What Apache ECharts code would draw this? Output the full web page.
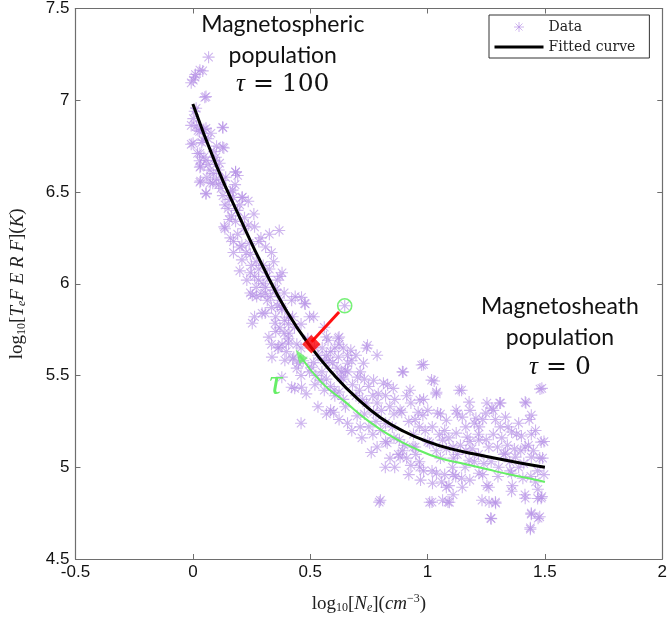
<!DOCTYPE html>
<html>
<head>
<meta charset="utf-8">
<script src="https://cdn.jsdelivr.net/npm/echarts@6/dist/echarts.min.js"></script>
<style>
html,body{margin:0;padding:0;background:#fff;}
#chart{width:670px;height:619px;}
</style>
</head>
<body>
<div id="chart"></div>
<script>
// Axis settings
const xTicks = [-0.5, 0, 0.5, 1, 1.5, 2];
const yTicks = [4.5, 5, 5.5, 6, 6.5, 7, 7.5];

// Scatter data [log10 Ne, log10 T]
const dataPoints = [
[0.067,7.235],[0.042,7.16],[0.002,7.11],[0.011,7.14],[0.056,7.02],[-0.007,7.095],
[-0.007,6.76],[0.008,6.94],[0.002,6.90],[0.015,6.86],[0.029,6.83],[0.047,6.84],[0.065,6.79],[0.038,6.77],[0.02,6.71],[0.029,6.67],[0.047,6.69],[0.033,6.64],[0.065,6.65],[0.092,6.67],[0.101,6.75],[0.128,6.85],[0.132,6.74],[0.033,6.56],[0.056,6.49],[0.074,6.55],[0.087,6.60],[0.110,6.54],[0.101,6.57],
[0.128,6.48],[0.137,6.43],[0.155,6.46],[0.173,6.47],[0.182,6.61],[0.191,6.59],[0.155,6.35],[0.134,6.31],[0.137,6.30],[0.164,6.37],[0.182,6.34],[0.200,6.43],[0.209,6.47],[0.236,6.45],[0.173,6.23],[0.191,6.27],[0.209,6.21],[0.218,6.30],[0.236,6.32],[0.263,6.31],[0.173,6.17],[0.209,6.13],[0.227,6.17],
[0.245,6.16],[0.281,6.23],[0.290,6.25],[0.326,6.27],[0.368,6.29],[0.245,6.06],[0.263,6.04],[0.281,6.08],[0.299,6.0],[0.245,5.95],[0.272,5.93],[0.290,5.94],[0.317,6.04],[0.326,6.08],[0.335,6.17],[0.344,6.12],[0.371,6.04],[0.380,6.06],[0.353,5.97],[0.263,5.82],[0.308,5.84],[0.317,5.91],[0.335,5.87],[0.371,5.91],[0.353,5.82],[0.389,5.95],[0.380,5.86],
[0.335,5.67],[0.353,5.74],[0.371,5.76],[0.389,5.73],[0.407,5.78],[0.425,5.82],[0.436,5.93],[0.461,5.78],[0.479,5.89],[0.362,5.65],[0.380,5.67],[0.398,5.63],[0.407,5.70],[0.443,5.67],[0.461,5.65],[0.425,5.59],[0.443,5.54],[0.461,5.50],[0.434,5.43],[0.483,5.40],[0.461,5.24],[0.497,5.52],[0.515,5.57],[0.533,5.61],[0.524,5.50],[0.533,5.33],[0.497,5.82],[0.515,5.82],[0.569,5.71],[0.551,5.65],
[0.569,5.61],[0.587,5.63],[0.605,5.65],[0.623,5.67],[0.641,5.65],[0.659,5.61],[0.677,5.58],[0.695,5.61],[0.596,5.57],[0.614,5.54],[0.632,5.52],[0.650,5.53],[0.569,5.48],[0.587,5.44],[0.605,5.39],[0.623,5.41],[0.641,5.37],[0.569,5.29],[0.587,5.31],[0.623,5.26],[0.659,5.24],[0.677,5.20],[0.713,5.22],[0.641,5.48],[0.623,5.71],[0.647,5.88],[0.740,5.65],[0.713,5.52],[0.731,5.48],[0.695,5.39],[0.722,5.37],
[0.785,5.61],[0.749,5.44],[0.767,5.39],[0.785,5.35],[0.803,5.31],[0.821,5.39],[0.839,5.33],[0.857,5.29],[0.893,5.52],[0.911,5.39],[0.929,5.35],[0.947,5.26],[0.965,5.22],[0.983,5.37],[0.983,5.56],[1.001,5.31],[0.767,5.18],[0.785,5.11],[0.821,5.14],[0.857,5.16],[0.875,5.07],[0.893,5.09],[0.911,5.05],[0.929,5.01],[0.947,5.11],[0.965,5.03],[0.794,4.81],[0.983,4.98],[1.001,5.14],[0.731,5.29],[0.821,5.24],
[1.019,4.98],[1.019,4.81],[1.028,5.47],[1.037,5.40],[1.055,5.29],[1.073,5.20],[1.091,5.16],[1.037,5.09],[1.055,5.05],[1.073,4.96],[1.091,4.90],[1.109,4.85],[1.087,4.81],[1.109,4.96],[1.127,5.07],[1.127,5.29],[1.145,5.42],[1.163,5.22],[1.181,5.31],[1.181,5.14],[1.199,5.03],[1.217,5.18],[1.235,5.26],[1.235,4.96],[1.253,4.90],[1.262,4.81],[1.271,4.72],[1.145,4.94],[1.109,5.11],[1.163,5.09],[1.199,5.24],[1.217,5.07],
[1.289,4.81],[1.289,5.26],[1.307,5.35],[1.316,5.16],[1.325,5.07],[1.343,5.22],[1.352,4.98],[1.361,4.90],[1.379,5.18],[1.388,5.24],[1.397,5.09],[1.406,4.94],[1.415,4.85],[1.419,5.35],[1.433,5.26],[1.442,5.18],[1.451,5.09],[1.442,4.75],[1.438,4.67],[1.469,4.83],[1.478,4.73],[1.469,4.98],[1.478,5.05],[1.487,5.43],[1.496,5.14],[1.496,4.96],[1.487,4.84],[1.460,4.92],[1.388,5.0],[1.298,5.11],[1.271,5.03],[1.253,5.35],[1.280,5.31],
[0.896,5.519],[0.975,5.557],[1.017,5.475],[1.038,5.409],[1.135,5.42],[1.479,5.426],[1.416,5.355],[1.311,5.35],[1.274,5.322],[1.177,5.355],[1.122,5.311],[0.967,5.366],[0.925,5.42],[0.854,5.43],[0.812,5.458],[0.883,5.311],[0.980,5.284],[1.043,5.295],[1.080,5.256],[1.148,5.273],[1.206,5.267],[1.248,5.295],[1.332,5.273],[1.358,5.192],[1.442,5.284],[1.484,5.137],[1.416,5.110],[1.442,5.055],[1.375,5.055],[1.332,5.077],[1.261,5.110],[1.219,5.148],[1.169,5.164],[1.122,5.186],[1.064,5.148],[1.009,5.132],[0.938,5.110],[0.883,5.055],[0.828,5.132],[0.967,5.0],[1.038,4.967],[1.021,4.913],[1.080,4.891],[1.064,4.820],[1.093,4.809],[1.148,4.891],[1.219,4.967],[1.261,4.891],[1.290,4.804],[1.269,4.722],[1.358,4.869],[1.416,4.831],[1.442,4.744],[1.438,4.662],[1.471,4.722],[1.484,4.831],[1.232,4.820],[1.009,4.809],[0.799,4.820],[1.106,5.0],[1.177,5.038],[1.303,5.0],[1.358,4.967],
[0.030,7.164],[0.009,7.126],[0.051,7.016],[0.014,6.956],[-0.007,6.863],[0.022,6.836],[0.056,6.847],[0.127,6.853],[0.001,6.766],[0.043,6.782],[0.077,6.820],[0.127,6.744],[0.030,6.711],[0.056,6.673],[0.098,6.689],[0.030,6.635],[0.073,6.619],[0.114,6.657],[0.030,6.553],[0.085,6.548],[0.127,6.564],[0.182,6.608],[0.169,6.510],[0.056,6.493],[0.211,6.472],
[0.253,5.937],[0.308,5.948],[0.350,5.964],[0.421,5.910],[0.463,5.926],[0.476,5.893],[0.379,5.872],[0.295,5.839],[0.253,5.785],[0.350,5.785],[0.408,5.818],[0.433,5.763],[0.324,5.709],[0.366,5.654],[0.408,5.676],[0.337,5.600],[0.392,5.583],[0.450,5.567],[0.505,5.545],[0.560,5.583],[0.619,5.703],[0.576,5.692],[0.673,5.638],[0.744,5.665],[0.660,5.567],[0.727,5.567],[0.770,5.474],[0.702,5.491],[0.631,5.491],[0.547,5.474],[0.463,5.436],[0.421,5.436],[0.379,5.491],[0.560,5.420],[0.602,5.420],[0.518,5.654],[0.560,5.763],
[0.20,6.20],[0.24,6.22],[0.27,6.12],[0.30,6.10],[0.31,6.20],[0.36,6.02],[0.27,5.98],[0.23,6.02],[0.20,6.07],[0.16,6.25],[0.15,6.41],[0.12,6.52],[0.26,6.38],[0.18,6.54],
[0.60,5.30],[0.65,5.33],[0.70,5.28],[0.75,5.22],[0.78,5.25],[0.80,5.20],[0.85,5.22],[0.88,5.15],[0.90,5.12],[0.72,5.16],[0.76,5.08],[0.84,5.05],[0.95,5.07],[0.92,4.96],[0.97,4.93],[0.86,5.00],[0.82,5.00],
[0.52,5.45],[0.55,5.52],[0.58,5.58],[0.62,5.60],[0.66,5.52],[0.68,5.45],[0.71,5.42],[0.74,5.35],[0.77,5.30],[0.79,5.40],[0.83,5.45],[0.86,5.37],[0.89,5.30],[0.92,5.25],[0.94,5.18],[0.96,5.30],[0.99,5.20],[1.02,5.22],[1.05,5.18],[1.08,5.10],[1.11,5.05],[1.14,5.12],[1.16,5.00],[1.19,5.10],[1.22,5.22],[1.25,5.15],[1.28,5.18],[1.31,5.22],[1.34,5.12],[1.37,5.10],[1.40,5.17],[1.43,5.12],[1.46,5.20],[1.49,5.05],[1.47,4.88],[1.44,4.95],[1.41,5.02],[1.35,5.03],[1.30,4.95],[1.24,5.02],[1.18,4.93],[1.12,4.95],[1.06,4.92],
[0.06,6.58],[0.09,6.72],[0.11,6.62],[0.14,6.58],[0.16,6.50],[0.19,6.40],[0.22,6.36],[0.25,6.10],[0.28,6.02],[0.31,5.98],[0.33,5.93],[0.36,5.88],[0.39,5.80],[0.41,5.73],[0.43,5.60],[0.47,5.58],[0.49,5.70]
];

// Fitted curve
const fitX = [0, 0.1, 0.2, 0.3, 0.4, 0.5, 0.6, 0.7, 0.8, 0.9, 1.0, 1.1, 1.2, 1.3, 1.4, 1.5];
const fitY = [6.98, 6.645, 6.36, 6.09, 5.85, 5.66, 5.505, 5.375, 5.27, 5.195, 5.14, 5.10, 5.072, 5.046, 5.022, 5.0];

// Green tau path
const tauX = [0.455, 0.55, 0.65, 0.75, 0.85, 0.95, 1.05, 1.15, 1.25, 1.35, 1.45, 1.5];
const tauY = [5.61, 5.46, 5.355, 5.25, 5.165, 5.10, 5.05, 5.02, 4.99, 4.96, 4.935, 4.92];

// Example point and its projection on the curve
const samplePoint = [0.647, 5.88];
const projLineX = [0.623, 0.506];
const projLineY = [5.846, 5.684];
const projPoint = [0.505, 5.67];

const asterisk = 'path://M10,0L10,20M0,10L20,10M3,3L17,17M3,17L17,3';
const asteriskIcon = 'path://M0,0M49,11M24.5,0.5L24.5,10.5M19.5,5.5L29.5,5.5M21,2L28,9M21,9L28,2';
const purple = 'rgba(178,140,228,0.8)';

const chart = echarts.init(document.getElementById('chart'));
const axisLineColor = '#6e6e6e';
const serif = '"Liberation Serif","DejaVu Serif",serif';

const commonAxis = {
  axisLine: {show: true, onZero: false, lineStyle: {color: axisLineColor, width: 1.2}},
  axisTick: {show: true, inside: true, length: 5, lineStyle: {color: axisLineColor}},
  splitLine: {show: false}
};

chart.setOption({
  animation: false,
  backgroundColor: '#fff',
  grid: {left: 71, right: 4, top: 8, bottom: 60, containLabel: false},
  legend: {
    orient: 'vertical', left: 489, top: 15,
    backgroundColor: '#fff', borderColor: '#333', borderWidth: 1,
    padding: [5, 14, 4, 5], itemGap: 6, itemWidth: 49, itemHeight: 11,
    textStyle: {fontFamily: '"DejaVu Serif",serif', fontSize: 14, color: '#222'},
    data: [
      {name: 'Data', icon: asteriskIcon, itemStyle: {color: 'transparent', borderColor: purple, borderWidth: 1}},
      {name: 'Fitted curve', icon: 'path://M0,0L49,0L49,3L0,3Z', itemStyle: {color: '#000', borderWidth: 0}}
    ]
  },
  xAxis: [
    Object.assign({}, commonAxis, {
      type: 'value', min: -0.5, max: 2, interval: 0.5,
      axisLabel: {color: '#111', fontFamily: '"Liberation Sans",Arial,sans-serif', fontSize: 17, margin: 5,
        formatter: v => String(v)},
      name: '{n|log}{s|10}{n|[}{i|N}{si|e}{n|](}{i|cm}{sp|−3}{n|)}',
      nameLocation: 'middle', nameGap: 34,
      nameTextStyle: {
        rich: {
          n: {fontFamily: serif, fontSize: 19, color: '#222'},
          i: {fontFamily: serif, fontStyle: 'italic', fontSize: 19, color: '#222'},
          s: {fontFamily: serif, fontSize: 12, color: '#222', padding: [8,0,0,0]},
          si: {fontFamily: serif, fontStyle: 'italic', fontSize: 12, color: '#222', padding: [8,0,0,0]},
          sp: {fontFamily: serif, fontSize: 12, color: '#222', padding: [0,0,10,0]}
        }
      }
    }),
    Object.assign({}, commonAxis, {
      type: 'value', position: 'top', min: -0.5, max: 2, interval: 0.5,
      axisLabel: {show: false}
    })
  ],
  yAxis: [
    Object.assign({}, commonAxis, {
      type: 'value', min: 4.5, max: 7.5, interval: 0.5,
      axisLabel: {color: '#111', fontFamily: '"Liberation Sans",Arial,sans-serif', fontSize: 17, margin: 6,
        formatter: v => String(v)},
      name: '{n|log}{s|10}{n|[}{i|T}{si|e}{i|F E R F}{n|](}{i|K}{n|)}',
      nameLocation: 'middle', nameGap: 48, nameRotate: 90,
      nameTextStyle: {
        rich: {
          n: {fontFamily: serif, fontSize: 19, color: '#222'},
          i: {fontFamily: serif, fontStyle: 'italic', fontSize: 19, color: '#222'},
          s: {fontFamily: serif, fontSize: 12, color: '#222', padding: [8,0,0,0]},
          si: {fontFamily: serif, fontStyle: 'italic', fontSize: 12, color: '#222', padding: [8,0,0,0]}
        }
      }
    }),
    Object.assign({}, commonAxis, {
      type: 'value', position: 'right', min: 4.5, max: 7.5, interval: 0.5,
      axisLabel: {show: false}
    })
  ],
  series: [
    {
      name: 'Data', type: 'scatter', data: dataPoints,
      symbol: asterisk, symbolSize: 12,
      itemStyle: {color: 'transparent', borderColor: purple, borderWidth: 1.1},
      z: 2
    },
    {
      name: 'Fitted curve', type: 'line', smooth: 0.5, showSymbol: false, symbol: 'none',
      data: fitX.map((x, i) => [x, fitY[i]]),
      lineStyle: {color: '#000', width: 3}, itemStyle: {color: '#000'}, z: 5
    },
    {
      name: 'tau', type: 'line', smooth: 0.5, showSymbol: false, symbol: 'none',
      data: tauX.map((x, i) => [x, tauY[i]]),
      lineStyle: {color: '#66ee66', width: 2}, z: 4
    },
    {
      name: 'arrow', type: 'scatter', data: [[tauX[0], tauY[0]]],
      symbol: 'triangle', symbolSize: [10, 14], symbolRotate: 35,
      itemStyle: {color: '#66ee66'}, z: 4
    },
    {
      name: 'proj', type: 'line', showSymbol: false, symbol: 'none',
      data: projLineX.map((x, i) => [x, projLineY[i]]),
      lineStyle: {color: '#ff1111', width: 3}, z: 6
    },
    {
      name: 'projPoint', type: 'scatter', data: [projPoint],
      symbol: 'rect', symbolSize: 13, symbolRotate: 45,
      itemStyle: {color: '#ff0000'}, z: 7
    },
    {
      name: 'sample', type: 'scatter', data: [samplePoint],
      symbol: 'circle', symbolSize: 14,
      itemStyle: {color: 'transparent', borderColor: '#55ee55', borderWidth: 1.6}, z: 7
    }
  ]
});

// Annotations
const ann = [
  {t: 'Magnetospheric', v: [0.383, 7.414], f: 'lato'},
  {t: 'population', v: [0.383, 7.246], f: 'lato'},
  {t: '{it|τ} = 100', v: [0.383, 7.084], f: 'math'},
  {t: 'Magnetosheath', v: [1.564, 5.878], f: 'lato'},
  {t: 'population', v: [1.564, 5.706], f: 'lato'},
  {t: '{it|τ} = 0', v: [1.564, 5.544], f: 'math'}
];
const graphics = ann.map(a => {
  const p = chart.convertToPixel({xAxisIndex: 0, yAxisIndex: 0}, a.v);
  return {
    type: 'text', x: p[0], y: p[1], z: 100,
    style: a.f === 'lato'
      ? {text: a.t, font: '23px Lato, "Open Sans", sans-serif', fill: '#111', align: 'center', verticalAlign: 'middle'}
      : {text: a.t, font: '25px "DejaVu Serif", serif', fill: '#111', align: 'center', verticalAlign: 'middle',
         rich: {it: {font: 'italic 25px "Liberation Serif", serif', fill: '#111'}}}
  };
});
const tp = chart.convertToPixel({xAxisIndex: 0, yAxisIndex: 0}, [0.353, 5.45]);
graphics.push({type: 'text', x: tp[0], y: tp[1], z: 100,
  style: {text: 'τ', font: 'italic 36px "Liberation Serif", serif', fill: '#66ee66', align: 'center', verticalAlign: 'middle'}});
chart.setOption({graphic: graphics});
</script>
</body>
</html>
